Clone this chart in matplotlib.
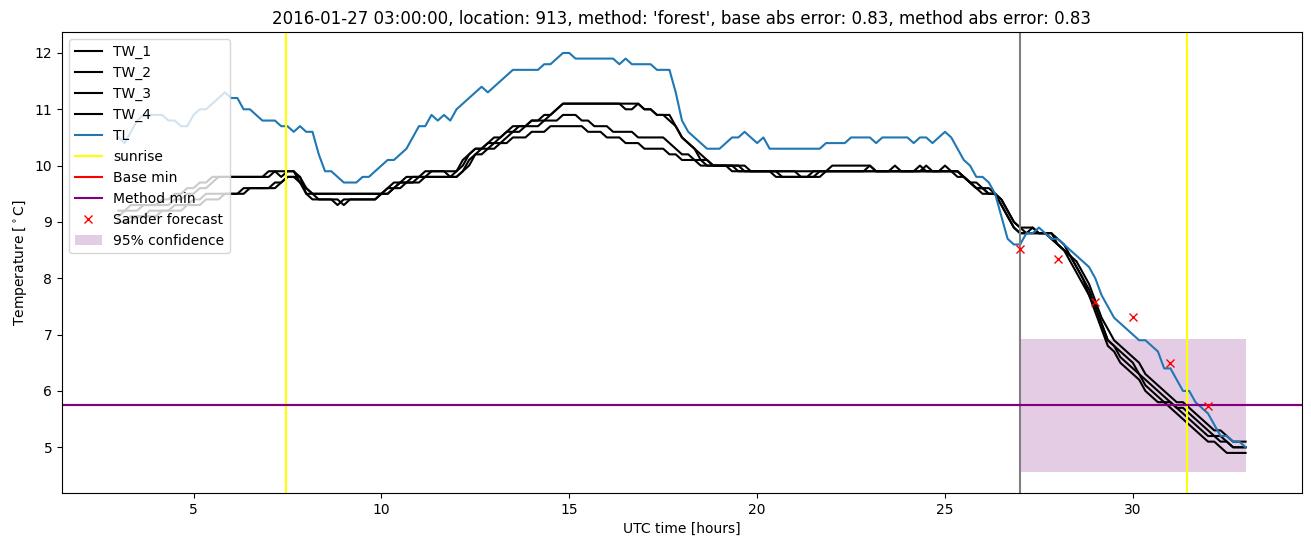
import numpy as np
import matplotlib
matplotlib.use("Agg")
import matplotlib.pyplot as plt

# 10-minute values, one row per hour, from 03:00 to 33:00 (UTC hours since day start)
TL = [10.5, 10.4, 10.6, 10.8, 10.9, 10.9,
      10.9, 10.9, 10.8, 10.8, 10.7, 10.7,
      10.9, 11.0, 11.0, 11.1, 11.2, 11.3,
      11.2, 11.2, 11.0, 11.0, 10.9, 10.8,
      10.8, 10.8, 10.7, 10.7, 10.6, 10.7,
      10.6, 10.6, 10.2, 9.9, 9.9, 9.8,
      9.7, 9.7, 9.7, 9.8, 9.8, 9.9,
      10.0, 10.1, 10.1, 10.2, 10.3, 10.5,
      10.7, 10.7, 10.9, 10.8, 10.9, 10.8,
      11.0, 11.1, 11.2, 11.3, 11.4, 11.3,
      11.4, 11.5, 11.6, 11.7, 11.7, 11.7,
      11.7, 11.7, 11.8, 11.8, 11.9, 12.0,
      12.0, 11.9, 11.9, 11.9, 11.9, 11.9,
      11.9, 11.9, 11.8, 11.9, 11.8, 11.8,
      11.8, 11.8, 11.7, 11.7, 11.7, 11.3,
      10.8, 10.6, 10.5, 10.4, 10.3, 10.3,
      10.3, 10.4, 10.5, 10.5, 10.6, 10.5,
      10.4, 10.5, 10.3, 10.3, 10.3, 10.3,
      10.3, 10.3, 10.3, 10.3, 10.3, 10.4,
      10.4, 10.4, 10.4, 10.5, 10.5, 10.5,
      10.5, 10.4, 10.5, 10.5, 10.5, 10.5,
      10.5, 10.4, 10.5, 10.5, 10.4, 10.5,
      10.6, 10.5, 10.3, 10.1, 10.0, 9.8,
      9.8, 9.7, 9.5, 9.1, 8.7, 8.6,
      8.6, 8.8, 8.8, 8.9, 8.8, 8.7,
      8.7, 8.6, 8.5, 8.4, 8.3, 8.2,
      8.0, 7.7, 7.5, 7.3, 7.2, 7.1,
      7.0, 6.9, 6.9, 6.8, 6.7, 6.4,
      6.4, 6.2, 6.0, 6.0, 5.8, 5.7,
      5.6, 5.4, 5.2, 5.2, 5.1, 5.1,
      5.0]

TW_1 = [9.2, 9.2, 9.3, 9.3, 9.3, 9.3,
        9.3, 9.4, 9.4, 9.5, 9.5, 9.6,
        9.6, 9.7, 9.7, 9.8, 9.8, 9.8,
        9.8, 9.8, 9.8, 9.8, 9.8, 9.8,
        9.8, 9.9, 9.9, 9.9, 9.9, 9.8,
        9.5, 9.5, 9.4, 9.4, 9.4, 9.3,
        9.4, 9.4, 9.4, 9.4, 9.4, 9.4,
        9.5, 9.6, 9.7, 9.7, 9.8, 9.8,
        9.8, 9.9, 9.9, 9.9, 9.9, 9.9,
        9.9, 10.0, 10.2, 10.3, 10.3, 10.4,
        10.4, 10.5, 10.6, 10.6, 10.7, 10.7,
        10.8, 10.8, 10.8, 10.9, 11.0, 11.1,
        11.1, 11.1, 11.1, 11.1, 11.1, 11.1,
        11.1, 11.1, 11.1, 11.0, 11.0, 11.1,
        11.0, 11.0, 10.9, 10.9, 10.9, 10.7,
        10.5, 10.4, 10.3, 10.2, 10.1, 10.0,
        10.0, 10.0, 10.0, 9.9, 9.9, 9.9,
        9.9, 9.9, 9.9, 9.8, 9.8, 9.8,
        9.8, 9.8, 9.8, 9.8, 9.9, 9.9,
        10.0, 10.0, 10.0, 10.0, 10.0, 10.0,
        10.0, 9.9, 9.9, 9.9, 9.9, 9.9,
        9.9, 9.9, 9.9, 9.9, 9.9, 9.9,
        9.9, 9.9, 9.9, 9.8, 9.7, 9.6,
        9.6, 9.5, 9.5, 9.3, 9.1, 8.9,
        8.8, 8.8, 8.8, 8.8, 8.8, 8.8,
        8.6, 8.5, 8.3, 8.1, 7.9, 7.7,
        7.4, 7.1, 6.8, 6.7, 6.5, 6.4,
        6.3, 6.2, 6.0, 5.9, 5.8, 5.8,
        5.7, 5.6, 5.5, 5.4, 5.3, 5.2,
        5.1, 5.1, 5.0, 4.9, 4.9, 4.9,
        4.9]

TW_2 = [9.1, 9.2, 9.2, 9.2, 9.3, 9.3,
        9.3, 9.3, 9.3, 9.4, 9.4, 9.5,
        9.5, 9.6, 9.6, 9.7, 9.8, 9.8,
        9.8, 9.8, 9.8, 9.8, 9.8, 9.8,
        9.9, 9.9, 9.8, 9.9, 9.9, 9.7,
        9.5, 9.4, 9.4, 9.4, 9.4, 9.4,
        9.3, 9.4, 9.4, 9.4, 9.4, 9.4,
        9.5, 9.6, 9.6, 9.7, 9.7, 9.8,
        9.8, 9.8, 9.9, 9.9, 9.9, 9.8,
        9.9, 10.1, 10.2, 10.3, 10.3, 10.4,
        10.5, 10.5, 10.6, 10.7, 10.7, 10.7,
        10.8, 10.8, 10.9, 10.9, 11.0, 11.1,
        11.1, 11.1, 11.1, 11.1, 11.1, 11.1,
        11.1, 11.1, 11.1, 11.1, 11.1, 11.1,
        11.0, 11.0, 10.9, 10.9, 10.8, 10.7,
        10.5, 10.4, 10.3, 10.1, 10.0, 10.0,
        10.0, 10.0, 9.9, 9.9, 9.9, 9.9,
        9.9, 9.9, 9.9, 9.9, 9.8, 9.8,
        9.8, 9.8, 9.8, 9.9, 9.9, 9.9,
        9.9, 9.9, 9.9, 9.9, 9.9, 9.9,
        10.0, 9.9, 9.9, 9.9, 10.0, 9.9,
        9.9, 9.9, 10.0, 9.9, 9.9, 9.9,
        9.9, 9.9, 9.9, 9.8, 9.7, 9.7,
        9.6, 9.6, 9.5, 9.4, 9.2, 9.0,
        8.9, 8.9, 8.9, 8.8, 8.8, 8.7,
        8.6, 8.5, 8.4, 8.2, 8.0, 7.7,
        7.5, 7.2, 6.9, 6.8, 6.6, 6.5,
        6.4, 6.3, 6.1, 6.0, 5.9, 5.8,
        5.8, 5.7, 5.6, 5.5, 5.4, 5.3,
        5.2, 5.2, 5.1, 5.1, 5.0, 5.0,
        5.0]

TW_3 = [9.0, 9.0, 9.1, 9.1, 9.1, 9.2,
        9.2, 9.2, 9.2, 9.3, 9.3, 9.3,
        9.4, 9.4, 9.5, 9.5, 9.5, 9.5,
        9.5, 9.5, 9.6, 9.6, 9.6, 9.6,
        9.6, 9.7, 9.7, 9.8, 9.8, 9.7,
        9.6, 9.5, 9.5, 9.5, 9.5, 9.5,
        9.5, 9.5, 9.5, 9.5, 9.5, 9.5,
        9.5, 9.5, 9.6, 9.7, 9.7, 9.7,
        9.8, 9.8, 9.8, 9.8, 9.8, 9.8,
        9.8, 9.9, 10.1, 10.2, 10.3, 10.3,
        10.4, 10.4, 10.5, 10.6, 10.6, 10.7,
        10.7, 10.7, 10.8, 10.8, 10.8, 10.9,
        10.9, 10.9, 10.8, 10.8, 10.7, 10.7,
        10.7, 10.6, 10.6, 10.6, 10.6, 10.5,
        10.5, 10.5, 10.5, 10.5, 10.4, 10.3,
        10.2, 10.2, 10.1, 10.1, 10.1, 10.0,
        10.0, 10.0, 10.0, 10.0, 9.9, 9.9,
        9.9, 9.9, 9.9, 9.9, 9.9, 9.9,
        9.9, 9.9, 9.9, 9.9, 9.9, 9.9,
        9.9, 9.9, 9.9, 9.9, 9.9, 9.9,
        9.9, 9.9, 9.9, 9.9, 9.9, 9.9,
        9.9, 9.9, 9.9, 10.0, 9.9, 9.9,
        10.0, 9.9, 9.9, 9.8, 9.7, 9.6,
        9.6, 9.5, 9.5, 9.3, 9.1, 8.9,
        8.8, 8.8, 8.9, 8.8, 8.8, 8.7,
        8.6, 8.5, 8.4, 8.2, 8.0, 7.8,
        7.5, 7.2, 6.9, 6.8, 6.7, 6.6,
        6.5, 6.3, 6.2, 6.1, 6.0, 5.9,
        5.8, 5.7, 5.7, 5.6, 5.5, 5.4,
        5.3, 5.2, 5.2, 5.1, 5.0, 5.0,
        5.0]

TW_4 = [9.0, 9.0, 9.0, 9.1, 9.1, 9.1,
        9.1, 9.2, 9.2, 9.2, 9.2, 9.3,
        9.3, 9.3, 9.4, 9.4, 9.4, 9.5,
        9.5, 9.5, 9.5, 9.6, 9.6, 9.6,
        9.6, 9.6, 9.7, 9.8, 9.8, 9.8,
        9.6, 9.5, 9.5, 9.5, 9.5, 9.5,
        9.5, 9.5, 9.5, 9.5, 9.5, 9.5,
        9.5, 9.5, 9.6, 9.6, 9.7, 9.7,
        9.7, 9.8, 9.8, 9.8, 9.8, 9.8,
        9.8, 9.9, 10.0, 10.2, 10.2, 10.3,
        10.3, 10.4, 10.4, 10.5, 10.5, 10.5,
        10.6, 10.6, 10.6, 10.7, 10.7, 10.7,
        10.7, 10.7, 10.7, 10.6, 10.6, 10.6,
        10.5, 10.5, 10.5, 10.4, 10.4, 10.4,
        10.3, 10.3, 10.3, 10.3, 10.2, 10.2,
        10.1, 10.1, 10.1, 10.0, 10.0, 10.0,
        10.0, 10.0, 10.0, 10.0, 10.0, 9.9,
        9.9, 9.9, 9.9, 9.9, 9.9, 9.9,
        9.9, 9.8, 9.8, 9.8, 9.8, 9.9,
        9.9, 9.9, 9.9, 9.9, 9.9, 9.9,
        9.9, 9.9, 9.9, 9.9, 9.9, 9.9,
        9.9, 9.9, 9.9, 9.9, 9.9, 9.9,
        9.9, 9.9, 9.8, 9.8, 9.7, 9.6,
        9.5, 9.5, 9.5, 9.4, 9.2, 9.0,
        8.9, 8.8, 8.8, 8.8, 8.8, 8.8,
        8.7, 8.6, 8.4, 8.3, 8.1, 7.9,
        7.6, 7.3, 7.1, 6.9, 6.8, 6.7,
        6.6, 6.5, 6.3, 6.2, 6.1, 6.0,
        5.9, 5.8, 5.8, 5.7, 5.6, 5.5,
        5.4, 5.3, 5.3, 5.2, 5.1, 5.1,
        5.1]

sunrise_hours = [7.45, 31.45]
forecast_hour = 27
base_min = 5.745
method_min = 5.745
sander_hours = [27, 28, 29, 30, 31, 32]
sander_values = [8.52, 8.35, 7.58, 7.32, 6.49, 5.74]
conf_hours = [27, 33]
conf_low = 4.56
conf_high = 6.92

hours = 3 + np.arange(len(TL)) / 6.0

fig = plt.figure(figsize=(13.11, 5.47), dpi=100)
ax = fig.add_axes([0.0473, 0.0987, 0.9458, 0.8428])

ax.plot(hours, TW_1, color='k', label='TW_1')
ax.plot(hours, TW_2, color='k', label='TW_2')
ax.plot(hours, TW_3, color='k', label='TW_3')
ax.plot(hours, TW_4, color='k', label='TW_4')
ax.plot(hours, TL, color='C0', label='TL')
ax.axvline(sunrise_hours[0], color='yellow', label='sunrise')
ax.axvline(sunrise_hours[1], color='yellow')
ax.axvline(forecast_hour, color='grey')
ax.axhline(base_min, color='red', label='Base min')
ax.axhline(method_min, color='purple', label='Method min')
ax.plot(sander_hours, sander_values, 'rx', label='Sander forecast')
ax.fill_between(conf_hours, conf_low, conf_high, color='purple', alpha=0.2,
                linewidth=0, label='95% confidence')

ax.set_title("2016-01-27 03:00:00, location: 913, method: 'forest', "
             "base abs error: 0.83, method abs error: 0.83")
ax.set_xlabel('UTC time [hours]')
ax.set_ylabel(r'Temperature [$^\circ$C]')
ax.legend(loc='upper left')

fig.savefig('out.png', dpi=100)
